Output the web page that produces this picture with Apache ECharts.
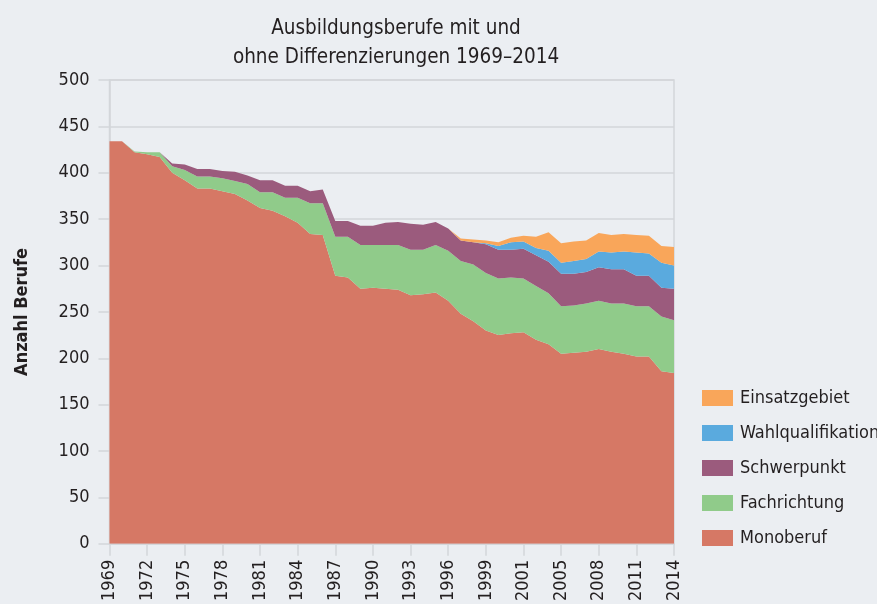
<!DOCTYPE html>
<html lang="de">
<head>
<meta charset="utf-8">
<title>Ausbildungsberufe mit und ohne Differenzierungen 1969–2014</title>
<script src="https://cdn.jsdelivr.net/npm/echarts@6/dist/echarts.min.js"></script>
<style>
    html, body { margin: 0; padding: 0; background: #ebeef2; }
    #chart { width: 877px; height: 604px; }
</style>
</head>
<body>
<div id="chart"></div>
<script>
// Jahre 1969–2014
const years = [
    '1969', '1970', '1971', '1972', '1973', '1974', '1975', '1976', '1977', '1978',
    '1979', '1980', '1981', '1982', '1983', '1984', '1985', '1986', '1987', '1988',
    '1989', '1990', '1991', '1992', '1993', '1994', '1995', '1996', '1997', '1998',
    '1999', '2000', '2001', '2002', '2003', '2004', '2005', '2006', '2007', '2008',
    '2009', '2010', '2011', '2012', '2013', '2014',
];
// Beschriftung jeder dritten Kategorie, wie in der Vorlage
const tickLabels = [
    '1969', '1972', '1975', '1978', '1981', '1984', '1987', '1990',
    '1993', '1996', '1999', '2001', '2005', '2008', '2011', '2014',
];
const yTicks = [0, 50, 100, 150, 200, 250, 300, 350, 400, 450, 500];

const monoberuf = [
    434, 434, 422, 420, 417, 400, 392, 383, 383, 380,
    377, 370, 362, 359, 353, 346, 334, 333, 289, 287,
    275, 276, 275, 274, 268, 269, 271, 262, 248, 240,
    230, 225, 227, 228, 220, 215, 205, 206, 207, 210,
    207, 205, 202, 202, 186, 184,
];
const fachrichtung = [
    0, 0, 1, 2, 5, 7, 11, 13, 13, 14,
    14, 18, 17, 20, 20, 27, 33, 34, 42, 44,
    47, 46, 47, 48, 49, 48, 51, 54, 57, 61,
    62, 61, 60, 58, 58, 55, 51, 51, 52, 52,
    52, 54, 54, 54, 59, 57,
];
const schwerpunkt = [
    0, 0, 0, 0, 0, 3, 6, 8, 8, 8,
    10, 9, 13, 13, 13, 13, 13, 15, 17, 17,
    21, 21, 24, 25, 28, 27, 25, 24, 22, 24,
    31, 31, 30, 32, 33, 34, 35, 34, 34, 36,
    37, 37, 33, 33, 31, 34,
];
const wahlqualifikation = [
    0, 0, 0, 0, 0, 0, 0, 0, 0, 0,
    0, 0, 0, 0, 0, 0, 0, 0, 0, 0,
    0, 0, 0, 0, 0, 0, 0, 0, 0, 0,
    1, 4, 8, 8, 8, 12, 12, 14, 14, 17,
    18, 19, 25, 24, 27, 25,
];
const einsatzgebiet = [
    0, 0, 0, 0, 0, 0, 0, 0, 0, 0,
    0, 0, 0, 0, 0, 0, 0, 0, 0, 0,
    0, 0, 0, 0, 0, 0, 0, 0, 2, 3,
    3, 4, 5, 6, 12, 20, 21, 21, 20, 20,
    19, 19, 19, 19, 18, 20,
];

const fontFamily = '"Liberation Sans Narrow", "DejaVu Sans Condensed", sans-serif';
const textColor = '#231f20';
const gridColor = '#d3d6da';

const seriesDefs = [
    { name: 'Monoberuf', data: monoberuf, color: '#d67865' },
    { name: 'Fachrichtung', data: fachrichtung, color: '#90cb8a' },
    { name: 'Schwerpunkt', data: schwerpunkt, color: '#9b5b7d' },
    { name: 'Wahlqualifikation', data: wahlqualifikation, color: '#5aaade' },
    { name: 'Einsatzgebiet', data: einsatzgebiet, color: '#f9a65a' },
];

const chart = echarts.init(document.getElementById('chart'), null, { renderer: 'canvas' });

chart.setOption({
    animation: false,
    backgroundColor: '#ebeef2',
    textStyle: { fontFamily },
    title: {
        text: 'Ausbildungsberufe mit und\nohne Differenzierungen 1969–2014',
        left: 391,
        textAlign: 'center',
        top: 9,
        textStyle: { color: textColor, fontFamily, fontSize: 20.5, fontWeight: 'normal', lineHeight: 29 },
    },
    legend: {
        orient: 'vertical',
        left: 697,
        top: 384,
        itemWidth: 31,
        itemHeight: 16,
        itemGap: 17,
        icon: 'rect',
        data: ['Einsatzgebiet', 'Wahlqualifikation', 'Schwerpunkt', 'Fachrichtung', 'Monoberuf'],
        textStyle: { color: textColor, fontFamily, fontSize: 18, lineHeight: 18, padding: [0, 0, 0, 2] },
    },
    grid: {
        left: 109.5, right: 203, top: 80, bottom: 58,
        show: true, borderColor: gridColor, borderWidth: 1.5, backgroundColor: 'transparent',
    },
    xAxis: {
        type: 'category',
        data: years,
        boundaryGap: false,
        axisLine: { lineStyle: { color: gridColor, width: 1.5 } },
        axisTick: { show: true, interval: 2, length: 12, lineStyle: { color: gridColor, width: 1.5 } },
        axisLabel: {
            interval: 2,
            rotate: 90,
            margin: 16,
            color: textColor,
            fontFamily,
            fontSize: 18,
            formatter: (value, index) => tickLabels[index / 3] || value,
        },
        splitLine: { show: false },
    },
    yAxis: {
        type: 'value',
        min: yTicks[0],
        max: yTicks[yTicks.length - 1],
        interval: 50,
        name: 'Anzahl Berufe',
        nameLocation: 'middle',
        nameGap: 78,
        nameTextStyle: { color: textColor, fontFamily, fontSize: 18, fontWeight: 'bold' },
        axisLine: { show: true, lineStyle: { color: gridColor, width: 1.5 } },
        axisTick: { show: true, length: 11, lineStyle: { color: gridColor, width: 1.5 } },
        axisLabel: { color: textColor, fontFamily, fontSize: 18, margin: 20 },
        splitLine: { lineStyle: { color: gridColor, width: 1.5 } },
    },
    series: seriesDefs.map((s) => ({
        name: s.name,
        type: 'line',
        stack: 'total',
        data: s.data,
        symbol: 'none',
        lineStyle: { width: 0 },
        itemStyle: { color: s.color },
        areaStyle: { color: s.color, opacity: 1 },
    })),
});
</script>
</body>
</html>
